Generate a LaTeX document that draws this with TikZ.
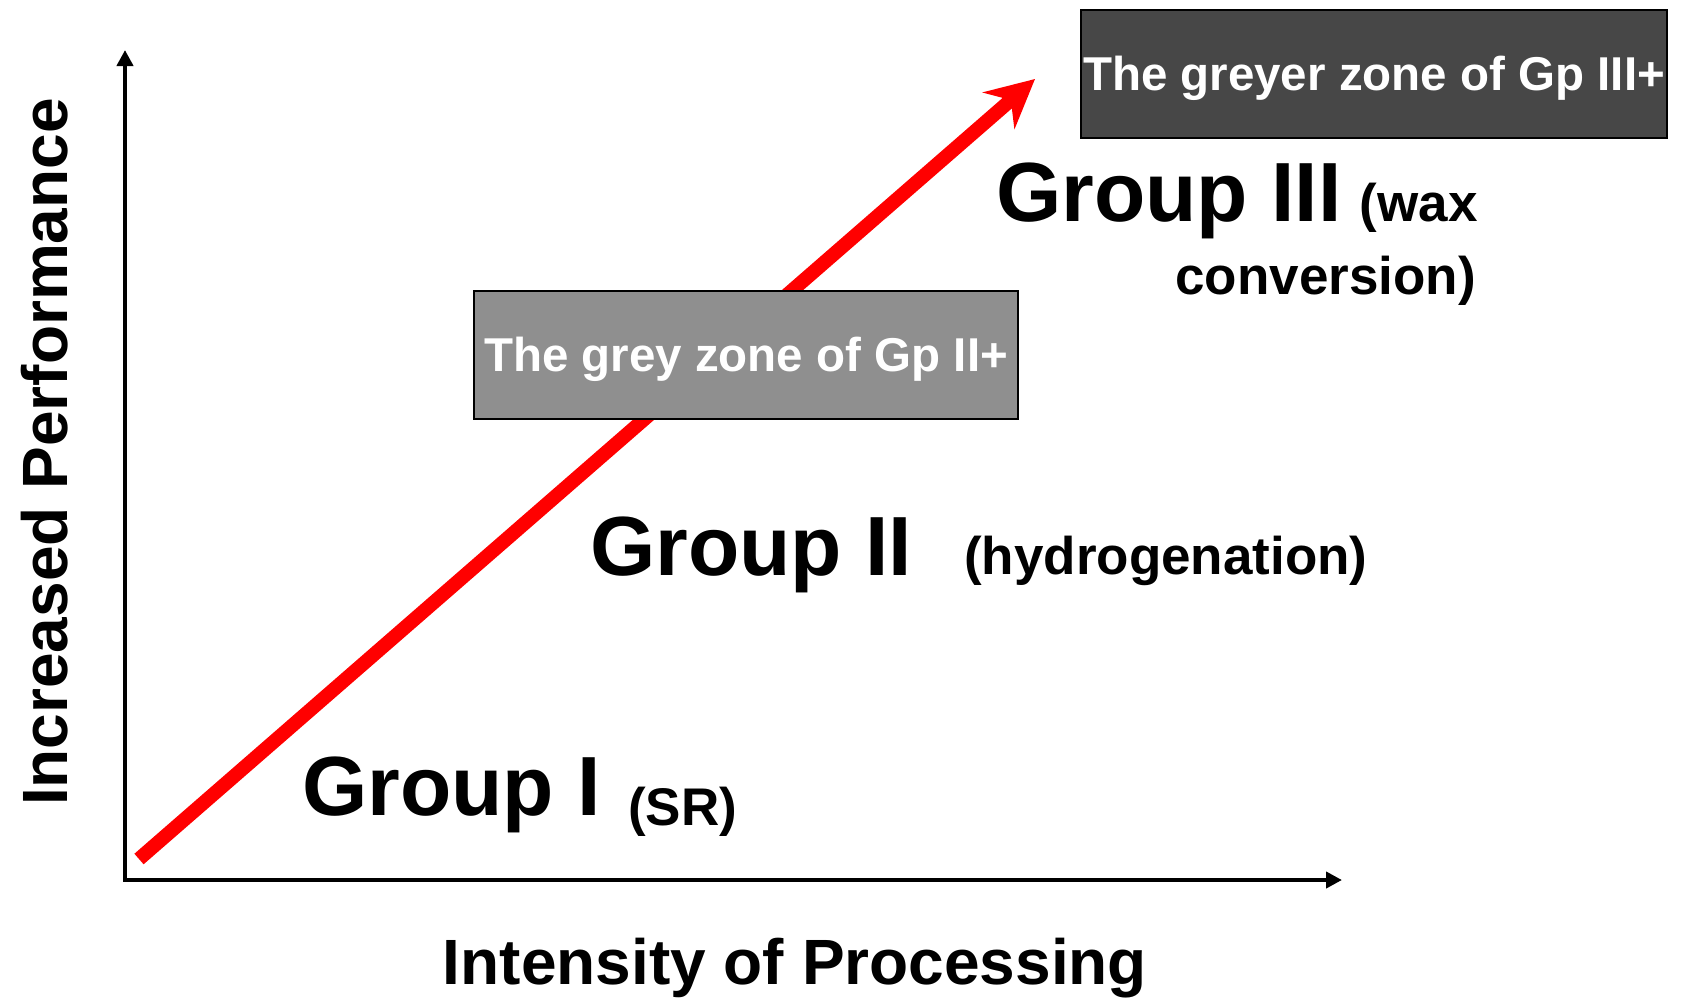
\documentclass[tikz,border=0pt]{standalone}
\usepackage{fontspec}
\setmainfont{Liberation Sans}
\usetikzlibrary{arrows.meta}
\definecolor{redline}{HTML}{FF0000}
\definecolor{greybox}{HTML}{8F8F8F}
\definecolor{darkbox}{HTML}{474747}
\tikzset{
  axis/.style={line width=4.5pt, -{Triangle[length=16pt,width=16pt]}},
  trend/.style={line width=14pt, redline, -{Stealth[length=48pt,width=48pt,inset=16pt]}},
  zonebox/.style={draw=black, line width=2pt, inner sep=0pt, text=white, font=\bfseries\fontsize{47.5}{50}\selectfont},
  big/.style={inner sep=0pt, font=\bfseries\fontsize{84}{90}\selectfont},
  small/.style={inner sep=0pt, font=\bfseries\fontsize{53}{58}\selectfont},
  axlabel/.style={inner sep=0pt, font=\bfseries\fontsize{64}{68}\selectfont},
}
\begin{document}
\begin{tikzpicture}[x=1pt,y=-1pt]
\useasboundingbox (0,0) rectangle (1689,997);
% axes
\coordinate (origin) at (125,880);
\coordinate (ytop) at (125,50);
\coordinate (xstart) at (123,880);
\coordinate (xend) at (1342,880);
\draw[axis] (origin) -- (ytop);
\draw[axis] (xstart) -- (xend);
% red trend arrow
\coordinate (rstart) at (139,859);
\coordinate (rend) at (1035,79);
\draw[trend] (rstart) -- (rend);
% boxes
\node[zonebox, fill=greybox, minimum width=544pt, minimum height=128pt, anchor=north west] (grey) at (473,290) {\raisebox{-16.5pt}[0pt][0pt]{The grey zone of Gp II+}};
\node[zonebox, fill=darkbox, minimum width=586pt, minimum height=128pt, anchor=north west] (greyer) at (1080,9) {\raisebox{-16.5pt}[0pt][0pt]{The greyer zone of Gp III+}};
% group labels
\node[big, anchor=base west] (g1) at (302,815) {Group I};
\node[small, anchor=base west] (g1s) at (628,825) {(SR)};
\node[big, anchor=base west] (g2) at (590,575) {Group II};
\node[small, anchor=base west] (g2s) at (964,574) {(hydrogenation)};
\node[big, anchor=base west] (g3) at (996,221) {Group III};
\node[small, anchor=base east] (g3a) at (1478,221) {(wax};
\node[small, anchor=base east] (g3b) at (1476,294) {conversion)};
% axis labels
\node[axlabel, anchor=base] (xl) at (795,984) {Intensity of Processing};
\node[axlabel, anchor=base, rotate=90] (yl) at (67,452) {Increased Performance};
\end{tikzpicture}
\end{document}
